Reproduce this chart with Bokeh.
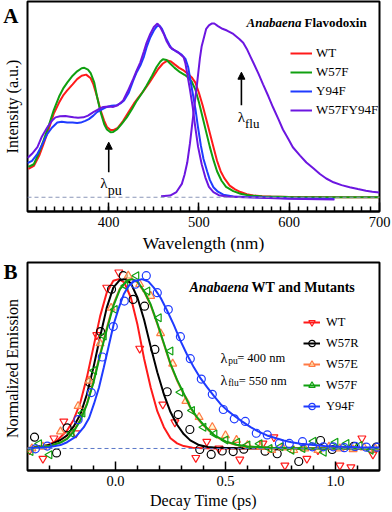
import numpy as np
from bokeh.plotting import figure
from bokeh.layouts import column, row
from bokeh.models import (Range1d, Span, Arrow, NormalHead, Label, Legend, LegendItem,
                          FixedTicker, PrintfTickFormatter)
from bokeh.embed import file_html
from bokeh.resources import INLINE

FONT = "'Liberation Serif', 'Times New Roman', serif"

# ---------------- Panel A : absorption / emission spectra ----------------
WT_WL = [311, 317, 323, 328, 334, 339, 345, 350, 354, 360, 365, 370, 375, 380, 383, 387, 391, 395, 398, 402,
         405, 410, 416, 422, 428, 433, 439, 445, 450, 455, 460, 465, 469, 473, 478, 483, 488, 492, 496, 500,
         504, 508, 512, 516, 520, 524, 528, 534, 540, 546, 553, 560, 570, 580, 600, 630, 660, 700]
WT_ABS = [0.163, 0.18, 0.24, 0.31, 0.40, 0.48, 0.545, 0.59, 0.615, 0.65, 0.68, 0.70, 0.706, 0.685, 0.65, 0.58, 0.50, 0.44, 0.405, 0.387,
          0.387, 0.40, 0.44, 0.49, 0.54, 0.575, 0.615, 0.66, 0.70, 0.74, 0.77, 0.787, 0.782, 0.765, 0.745, 0.73, 0.71, 0.69, 0.66, 0.60,
          0.53, 0.45, 0.37, 0.29, 0.21, 0.15, 0.11, 0.067, 0.045, 0.03, 0.018, 0.01, 0.006, 0.004, 0.002, 0.001, 0.0, 0.0]

W57F_WL = [311, 317, 323, 328, 334, 339, 345, 350, 354, 360, 365, 370, 373, 377, 380, 384, 387, 391, 395, 398,
           402, 405, 409, 414, 420, 426, 431, 437, 442, 448, 453, 457, 460, 464, 468, 473, 479, 484, 488, 492,
           496, 500, 504, 508, 512, 516, 520, 525, 530, 538, 546, 556, 570, 600, 650, 700]
W57F_ABS = [0.175, 0.19, 0.26, 0.33, 0.42, 0.50, 0.58, 0.63, 0.66, 0.70, 0.725, 0.743, 0.745, 0.735, 0.715, 0.66, 0.58, 0.49, 0.42, 0.39,
            0.374, 0.376, 0.39, 0.42, 0.46, 0.51, 0.555, 0.60, 0.643, 0.70, 0.75, 0.78, 0.795, 0.79, 0.77, 0.745, 0.72, 0.705, 0.69, 0.665,
            0.62, 0.545, 0.46, 0.375, 0.29, 0.215, 0.15, 0.095, 0.06, 0.035, 0.02, 0.01, 0.005, 0.002, 0.0, 0.0]

Y94F_WL = [310, 315, 321, 326, 332, 337, 343, 348, 354, 360, 365, 369, 374, 378, 383, 387, 392, 398, 403, 409,
           413, 417, 422, 427, 431, 435, 439, 442, 446, 450, 453, 456, 459, 463, 467, 470, 474, 477, 481, 485,
           488, 490, 493, 496, 499, 502, 505, 509, 512, 516, 521, 527, 538, 560, 600, 650]
Y94F_ABS = [0.196, 0.21, 0.25, 0.30, 0.365, 0.40, 0.43, 0.435, 0.43, 0.43, 0.428, 0.43, 0.44, 0.45, 0.47, 0.49, 0.505, 0.52, 0.527, 0.53,
            0.54, 0.557, 0.60, 0.67, 0.72, 0.758, 0.81, 0.864, 0.92, 0.96, 0.982, 0.99, 0.97, 0.92, 0.88, 0.854, 0.842, 0.835, 0.82, 0.797,
            0.75, 0.69, 0.60, 0.51, 0.40, 0.30, 0.22, 0.15, 0.10, 0.058, 0.032, 0.015, 0.004, 0.0, -0.005, -0.01]

DM_WL = [310, 315, 321, 326, 332, 337, 341, 346, 352, 357, 361, 366, 372, 377, 383, 389, 394, 400, 405, 410,
         416, 421, 427, 431, 435, 439, 442, 446, 450, 454, 457, 461, 464, 468, 472, 475, 479, 483, 485, 487,
         490, 493, 496, 499, 503, 507, 511, 516, 522, 531, 550, 600, 650]
DM_ABS = [0.226, 0.25, 0.288, 0.35, 0.403, 0.44, 0.46, 0.466, 0.468, 0.464, 0.46, 0.458, 0.46, 0.47, 0.49, 0.508, 0.52, 0.522, 0.52, 0.53,
          0.557, 0.61, 0.68, 0.73, 0.777, 0.84, 0.89, 0.94, 0.98, 1.0, 0.98, 0.94, 0.90, 0.864, 0.85, 0.84, 0.825, 0.806, 0.77, 0.71,
          0.62, 0.52, 0.40, 0.29, 0.19, 0.115, 0.06, 0.029, 0.012, 0.004, 0.0, -0.008, -0.013]

EM_WL = [458, 468, 475, 481, 484, 487, 490, 492, 495, 498, 501, 503, 506, 508, 511, 514, 517, 521, 526, 531,
         538, 545, 549, 553, 557, 560, 566, 571, 577, 582, 588, 593, 599, 604, 612, 619, 627, 634, 641, 649,
         658, 667, 676, 685, 692, 700]
EM_FLU = [0.006, 0.01, 0.03, 0.077, 0.13, 0.20, 0.31, 0.40, 0.53, 0.66, 0.80, 0.87, 0.93, 0.97, 0.99, 1.0, 1.0, 0.985, 0.97, 0.96,
          0.94, 0.91, 0.89, 0.854, 0.81, 0.777, 0.71, 0.65, 0.58, 0.518, 0.45, 0.39, 0.335, 0.288, 0.24, 0.20, 0.165, 0.134, 0.108, 0.086,
          0.07, 0.058, 0.047, 0.038, 0.032, 0.027]

A_LABELS = ["WT", "W57F", "Y94F", "W57FY94F"]
A_TICKS = [400, 500, 600, 700]
LAMBDA_PU_NM = 400
LAMBDA_FLU_NM = 547

# ---------------- Panel B : fluorescence decay ----------------
FIT_T_WT = [-0.40, -0.31, -0.265, -0.22, -0.19, -0.16, -0.13, -0.10, -0.07, -0.04, -0.01, 0.015, 0.04, 0.07, 0.10,
            0.13, 0.16, 0.19, 0.22, 0.25, 0.28, 0.31, 0.35, 0.40, 0.46, 0.60, 0.80, 1.00, 1.20]
FIT_WT = [0.002, 0.018, 0.047, 0.106, 0.17, 0.27, 0.42, 0.60, 0.78, 0.92, 0.99, 1.0, 0.98, 0.89, 0.73,
          0.53, 0.36, 0.22, 0.126, 0.06, 0.03, 0.014, 0.005, 0.002, 0.0, 0.0, 0.0, 0.0, 0.0]

FIT_T_W57R = [-0.40, -0.30, -0.25, -0.22, -0.19, -0.16, -0.13, -0.10, -0.07, -0.04, -0.01, 0.02, 0.045, 0.07, 0.10,
              0.13, 0.16, 0.19, 0.22, 0.25, 0.28, 0.31, 0.34, 0.38, 0.42, 0.46, 0.55, 0.70, 0.90, 1.20]
FIT_W57R = [0.002, 0.02, 0.05, 0.077, 0.13, 0.20, 0.32, 0.48, 0.66, 0.83, 0.95, 0.995, 1.0, 0.975, 0.89,
            0.76, 0.60, 0.45, 0.32, 0.215, 0.14, 0.085, 0.048, 0.02, 0.009, 0.004, 0.002, 0.0, 0.0, 0.0]

FIT_T_W57EF = [-0.40, -0.30, -0.25, -0.22, -0.19, -0.16, -0.13, -0.10, -0.07, -0.04, -0.01, 0.02, 0.05, 0.075, 0.10, 0.13,
               0.16, 0.19, 0.22, 0.25, 0.28, 0.31, 0.34, 0.37, 0.40, 0.45, 0.50, 0.55, 0.60, 0.70, 0.85, 1.20]
FIT_W57E = [0.0, 0.015, 0.036, 0.06, 0.105, 0.17, 0.265, 0.40, 0.56, 0.71, 0.85, 0.945, 0.99, 1.0, 0.98, 0.925,
            0.845, 0.735, 0.615, 0.495, 0.40, 0.32, 0.24, 0.18, 0.135, 0.075, 0.04, 0.021, 0.011, 0.004, 0.0, 0.0]
FIT_W57F = [0.0, 0.014, 0.035, 0.057, 0.10, 0.165, 0.26, 0.39, 0.55, 0.70, 0.84, 0.94, 0.99, 1.0, 0.985, 0.93,
            0.85, 0.74, 0.62, 0.50, 0.405, 0.325, 0.245, 0.185, 0.14, 0.077, 0.042, 0.022, 0.012, 0.004, 0.0, 0.0]

FIT_T_Y94F = [-0.40, -0.30, -0.25, -0.22, -0.18, -0.144, -0.12, -0.098, -0.075, -0.053, -0.03, -0.008, 0.015, 0.038, 0.06,
              0.083, 0.12, 0.15, 0.174, 0.205, 0.235, 0.265, 0.295, 0.325, 0.356, 0.386, 0.417, 0.447, 0.477, 0.508,
              0.538, 0.575, 0.614, 0.65, 0.689, 0.73, 0.765, 0.80, 0.841, 0.90, 0.95, 1.0, 1.1, 1.2]
FIT_Y94F = [0.0, 0.008, 0.02, 0.037, 0.07, 0.126, 0.18, 0.263, 0.36, 0.479, 0.61, 0.735, 0.83, 0.912, 0.96,
            0.986, 1.0, 0.985, 0.95, 0.89, 0.813, 0.73, 0.637, 0.555, 0.479, 0.415, 0.361, 0.31, 0.263, 0.225,
            0.195, 0.16, 0.126, 0.10, 0.077, 0.06, 0.047, 0.037, 0.028, 0.02, 0.015, 0.012, 0.008, 0.006]

WT_T = [-0.39, -0.33, -0.28, -0.235, -0.18, -0.085, -0.04, 0.015, 0.11, 0.215, 0.27, 0.365, 0.415, 0.47, 0.565,
        0.67, 0.72, 0.77, 0.87, 0.92, 1.02, 1.07, 1.12, 1.17]
WT_Y = [-0.01, -0.06, 0.06, 0.16, 0.09, 0.67, 0.95, 1.04, 0.59, 0.26, 0.155, -0.055, 0.04, 0.0, -0.065,
        0.03, 0.067, -0.10, -0.06, -0.01, -0.10, -0.11, 0.06, -0.035]

W57R_T = [-0.368, -0.268, -0.22, -0.117, -0.068, -0.018, 0.035, 0.08, 0.132, 0.179, 0.235, 0.285, 0.338, 0.383,
          0.435, 0.485, 0.535, 0.583, 0.68, 0.735, 0.833, 0.932, 0.985, 1.083, 1.186]
W57R_Y = [0.067, -0.026, 0.122, 0.39, 0.69, 0.94, 1.02, 0.88, 0.84, 0.585, 0.335, 0.2, 0.112, -0.006,
          -0.035, -0.015, -0.018, -0.004, -0.016, -0.031, -0.077, 0.047, -0.006, 0.012, 0.008]

W57E_T = [-0.38, -0.33, -0.25, -0.17, -0.12, -0.07, -0.02, 0.058, 0.11, 0.16, 0.205, 0.26, 0.32, 0.38, 0.44,
          0.50, 0.55, 0.60, 0.66, 0.71, 0.76, 0.81, 0.86, 0.92, 0.97, 1.02, 1.08, 1.13, 1.18]
W57E_Y = [0.0, 0.01, 0.10, 0.25, 0.40, 0.62, 0.83, 1.02, 0.97, 0.90, 0.68, 0.50, 0.28, 0.185, 0.126,
          0.077, 0.05, 0.02, 0.01, -0.01, 0.005, -0.01, 0.0, -0.01, 0.01, 0.0, -0.005, 0.005, 0.0]

W57F_T = [-0.386, -0.347, -0.30, -0.2, -0.15, -0.097, -0.053, -0.003, 0.045, 0.095, 0.145, 0.197, 0.25, 0.295, 0.348,
          0.40, 0.45, 0.50, 0.553, 0.60, 0.655, 0.70, 0.75, 0.80, 0.85, 0.90, 0.947, 1.0, 1.05, 1.11, 1.16]
W57F_Y = [-0.018, 0.028, -0.037, 0.09, 0.21, 0.46, 0.664, 0.82, 0.96, 1.02, 0.93, 0.772, 0.576, 0.332, 0.224,
          0.125, 0.086, 0.05, 0.037, 0.02, 0.028, 0.0, 0.01, -0.01, 0.0, 0.043, -0.022, 0.037, 0.03, 0.018, -0.01]

Y94F_T = [-0.364, -0.31, -0.17, -0.11, -0.06, -0.01, 0.04, 0.09, 0.14, 0.19, 0.24, 0.295, 0.34, 0.39, 0.44,
          0.49, 0.54, 0.59, 0.64, 0.69, 0.745, 0.79, 0.85, 0.895, 0.945, 0.99, 1.04, 1.09, 1.14, 1.19]
Y94F_Y = [-0.002, 0.014, 0.17, 0.33, 0.54, 0.72, 0.87, 0.97, 1.02, 0.92, 0.82, 0.66, 0.53, 0.41, 0.32,
          0.23, 0.175, 0.16, 0.09, 0.08, 0.03, 0.03, 0.04, 0.01, 0.01, 0.01, 0.005, 0.012, 0.008, 0.008]

B_LABELS = ["WT", "W57R", "W57E", "W57F", "Y94F"]
B_TICKS = [0.0, 0.5, 1.0]

RED, GREEN, BLUE, PURPLE = "#ff1a1a", "#10a010", "#1f3bff", "#6c16e0"
ORANGE = "#ff7a45"


def clean(p):
    for g in p.grid:
        g.visible = False
    p.background_fill_color = "white"
    p.border_fill_color = "white"


def style(p, xlabel, xlabel_size):
    clean(p)
    p.outline_line_color = "black"
    p.outline_line_width = 2
    ax = p.xaxis[0]
    ax.axis_label = xlabel
    ax.axis_label_text_font = FONT
    ax.axis_label_text_font_style = "normal"
    ax.axis_label_text_font_size = xlabel_size
    ax.axis_label_text_color = "black"
    ax.axis_label_standoff = 3
    ax.major_label_text_font = FONT
    ax.major_label_text_font_size = "14.5px"
    ax.major_label_text_color = "black"
    ax.major_label_standoff = 5
    ax.axis_line_color = "black"
    ax.axis_line_width = 2
    ax.major_tick_in = 9
    ax.major_tick_out = 0
    ax.minor_tick_in = 5
    ax.minor_tick_out = 0
    ax.major_tick_line_color = "black"
    ax.minor_tick_line_color = "black"
    ax.major_tick_line_width = 1.5
    ax.minor_tick_line_width = 1.5


def lbl(p, x, y, text, size, style_="normal", align="left", baseline="alphabetic", x_offset=0):
    p.add_layout(Label(x=x, y=y, text=text, text_font=FONT, text_font_size=size,
                       text_font_style=style_, text_align=align, text_baseline=baseline,
                       text_color="black", x_offset=x_offset))


def side_strip(height, letter, letter_right_gap, ytitle, border_bottom):
    """Narrow figure left of a panel: panel letter as its title, y-axis title on its left axis."""
    s = figure(width=26, height=height, x_range=Range1d(0, 1), y_range=Range1d(0, 1),
               output_backend="svg", toolbar_location=None, x_axis_location=None, y_axis_location="left",
               min_border_left=20, min_border_right=0, min_border_top=0, min_border_bottom=border_bottom,
               outline_line_color=None)
    clean(s)
    s.title.text = letter
    s.title.text_font = FONT
    s.title.text_font_size = "21px"
    s.title.text_font_style = "bold"
    s.title.text_color = "black"
    s.title.align = "right"
    s.title.offset = letter_right_gap
    s.title.standoff = 2
    ay = s.yaxis[0]
    ay.ticker = FixedTicker(ticks=[])
    ay.axis_label = ytitle
    ay.axis_label_text_font = FONT
    ay.axis_label_text_font_style = "normal"
    ay.axis_label_text_font_size = "16px"
    ay.axis_label_text_color = "black"
    ay.axis_label_standoff = 0
    ay.major_label_standoff = 0
    ay.major_tick_out = 0
    ay.minor_tick_out = 0
    ay.major_tick_in = 0
    ay.minor_tick_in = 0
    ay.axis_line_color = None
    return column(s, spacing=0)


# ================= Panel A =================
pA = figure(width=366, height=256, x_range=Range1d(310, 700), y_range=Range1d(-0.082, 1.127),
            output_backend="svg", toolbar_location=None, y_axis_location=None,
            min_border_left=1, min_border_right=13, min_border_top=1, min_border_bottom=45)
style(pA, "Wavelength (nm)", "17.5px")
pA.xaxis[0].ticker = FixedTicker(ticks=A_TICKS, minor_ticks=list(range(320, 700, 10)))

pA.add_layout(Span(location=0, dimension="width", line_color="#8a96b8", line_dash="4 3", line_width=1))

rA = []
rA.append(pA.line(WT_WL, WT_ABS, line_color=RED, line_width=2))
rA.append(pA.line(W57F_WL, W57F_ABS, line_color=GREEN, line_width=2))
rA.append(pA.line(Y94F_WL, Y94F_ABS, line_color=BLUE, line_width=2))
rA.append(pA.line(DM_WL, DM_ABS, line_color=PURPLE, line_width=2))
pA.line(EM_WL, EM_FLU, line_color=PURPLE, line_width=2)

legA = Legend(items=[LegendItem(label=l, renderers=[r]) for l, r in zip(A_LABELS, rA)],
              location=(263, 93), orientation="vertical",
              label_text_font=FONT, label_text_font_size="13px", label_text_color="black",
              glyph_width=22, glyph_height=14, label_height=14, label_standoff=4, spacing=3,
              padding=0, margin=0, border_line_color=None, background_fill_alpha=0)
pA.add_layout(legA)

pA.add_layout(Arrow(end=NormalHead(size=7, fill_color="black", line_color="black"),
                    x_start=LAMBDA_PU_NM, y_start=0.144, x_end=LAMBDA_PU_NM, y_end=0.317,
                    line_color="black", line_width=1.6))
pA.add_layout(Arrow(end=NormalHead(size=7, fill_color="black", line_color="black"),
                    x_start=LAMBDA_FLU_NM, y_start=0.53, x_end=LAMBDA_FLU_NM, y_end=0.72,
                    line_color="black", line_width=1.6))
lbl(pA, 398.8, 0.081, "λ", "15px", align="right")
lbl(pA, 398.8, 0.039, "pu", "14px")
lbl(pA, 551, 0.46, "λ", "15px", align="right")
lbl(pA, 551, 0.424, "flu", "13px")

lbl(pA, 613.6, 1.006, "Anabaena", "13px", "bold italic", align="right", baseline="middle")
lbl(pA, 613.6, 1.006, "Flavodoxin", "13px", "bold", baseline="middle", x_offset=3)

stripA = side_strip(256, "A", 8, "Intensity (a.u.)", 72)

# ================= Panel B =================
pB = figure(width=366, height=255, x_range=Range1d(-0.4, 1.2), y_range=Range1d(-0.13, 1.098),
            output_backend="svg", toolbar_location=None, y_axis_location=None,
            min_border_left=1, min_border_right=13, min_border_top=6, min_border_bottom=41)
style(pB, "Decay Time (ps)", "16px")
pB.xaxis[0].ticker = FixedTicker(ticks=B_TICKS, minor_ticks=[-0.3, -0.2, -0.1, 0.1, 0.2, 0.3, 0.4, 0.6, 0.7, 0.8, 0.9, 1.1])
pB.xaxis[0].formatter = PrintfTickFormatter(format="%.1f")

pB.add_layout(Span(location=0, dimension="width", line_color="#5a78c8", line_dash="4 3", line_width=1))

series = [
    (FIT_T_WT, FIT_WT, WT_T, WT_Y, RED, "inverted_triangle", 0.0, None, 1.0),
    (FIT_T_W57R, FIT_W57R, W57R_T, W57R_Y, "black", "circle", 0.0, None, 1.0),
    (FIT_T_W57EF, FIT_W57E, W57E_T, W57E_Y, ORANGE, "triangle", 0.0, "#fff6b8", 0.6),
    (FIT_T_W57EF, FIT_W57F, W57F_T, W57F_Y, GREEN, "triangle", np.pi / 2, None, 1.0),
    (FIT_T_Y94F, FIT_Y94F, Y94F_T, Y94F_Y, BLUE, "circle", 0.0, None, 1.0),
]
itemsB = []
for (ft, fv, st, sv, col, mk, ang, fill, falpha), name in zip(series, B_LABELS):
    ln = pB.line(ft, fv, line_color=col, line_width=2)
    sc = pB.scatter(st, sv, marker=mk, angle=ang, size=8, line_color=col, line_width=1.2,
                    fill_color=fill, fill_alpha=falpha)
    itemsB.append(LegendItem(label=name, renderers=[ln, sc]))

legB = Legend(items=itemsB, location=(276, 56), orientation="vertical",
              label_text_font=FONT, label_text_font_size="12.5px", label_text_color="black",
              glyph_width=17, glyph_height=16, label_height=16, label_standoff=6, spacing=5,
              padding=0, margin=0, border_line_color=None, background_fill_alpha=0)
pB.add_layout(legB)

lbl(pB, 0.605, 0.95, "Anabaena", "14px", "bold italic", align="right", baseline="middle")
lbl(pB, 0.605, 0.95, "WT and Mutants", "14px", "bold", baseline="middle", x_offset=3)

lbl(pB, 0.477, 0.534, "λ", "14px")
lbl(pB, 0.512, 0.518, "pu", "9.5px")
lbl(pB, 0.553, 0.534, "= 400 nm", "12.5px")
lbl(pB, 0.477, 0.40, "λ", "14px")
lbl(pB, 0.512, 0.385, "flu", "9.5px")
lbl(pB, 0.56, 0.40, "= 550 nm", "12.5px")

stripB = side_strip(255, "B", 9, "Normalized Emission", 59)

layout = column(row(stripA, pA, spacing=0), row(stripB, pB, spacing=0), spacing=0)
open("out.html", "w").write(file_html(layout, INLINE))
